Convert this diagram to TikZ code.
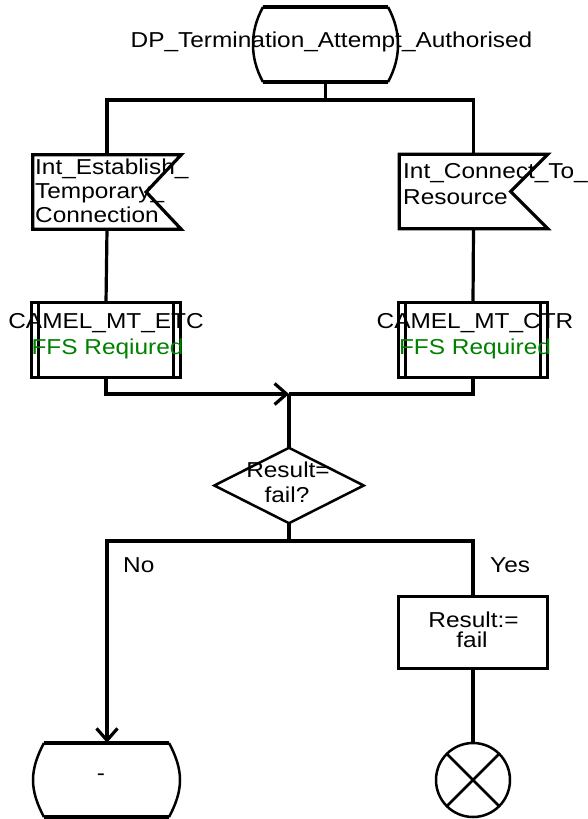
\documentclass[tikz,border=0pt]{standalone}
\usepackage{fontspec}
\setmainfont{Liberation Sans}[FakeStretch=1.13]
\usetikzlibrary{arrows.meta}
\definecolor{ffsgreen}{RGB}{0,128,0}
\tikzset{
  lw/.style={line width=3.2pt},
  lwthin/.style={line width=2.5pt},
  txt/.style={inner sep=0pt, font=\fontsize{21.6}{24.5}\selectfont},
  gtxt/.style={txt, text=ffsgreen},
  frame/.style={inner sep=0pt, draw=none},
  barb/.style={-{Straight Barb[length=12pt,width=21pt,line width=3.2pt]}}
}
\begin{document}
\begin{tikzpicture}[x=1pt,y=-1pt]
\useasboundingbox (0,0) rectangle (587,819);
% ---------- frames (invisible) ----------
\node[frame, minimum width=145pt, minimum height=75pt] (start) at (325.5,44.5) {};
\node[frame, minimum width=148pt, minimum height=74pt] (sigL) at (107,192) {};
\node[frame, minimum width=148pt, minimum height=74pt] (sigR) at (473.5,191.5) {};
\node[frame, minimum width=148pt, minimum height=74pt] (camL) at (106,340) {};
\node[frame, minimum width=148pt, minimum height=74pt] (camR) at (473,340) {};
\node[frame, minimum width=149pt, minimum height=75pt] (dec) at (289,485.5) {};
\node[frame, minimum width=148pt, minimum height=71pt] (task) at (473,632.5) {};
\node[frame, minimum width=148pt, minimum height=74pt] (endL) at (107,780) {};
\node[frame, circle, minimum size=74pt] (stop) at (473,780) {};
\coordinate (split) at (325.5,100);
\coordinate (merge) at (289,394);
\coordinate (join) at (289,541);
% ---------- start state ----------
\draw[lw] (263,7) -- (388,7);
\draw[lw] (263,82) -- (388,82);
\draw[lwthin] (388,7) .. controls (395,20) and (398,32) .. (398,44.5) .. controls (398,57) and (395,69) .. (388,82);
\draw[lwthin] (263,7) .. controls (256,20) and (253,32) .. (253,44.5) .. controls (253,57) and (256,69) .. (263,82);
\node[txt, anchor=base] (t0) at (331.5,47) {DP\_Termination\_Attempt\_Authorised};
% ---------- input signals ----------
\draw[lw] (sigL.north west) -- (sigL.north east) -- ([xshift=-35pt]sigL.east) -- (sigL.south east) -- (sigL.south west) -- cycle;
\draw[lw] (sigR.north west) -- (sigR.north east) -- ([xshift=-37pt]sigR.east) -- (sigR.south east) -- (sigR.south west) -- cycle;
\node[txt, anchor=base west] (tl1) at (35,174) {Int\_Establish\_};
\node[txt, anchor=base west] (tl2) at (35,198) {Temporary\_};
\node[txt, anchor=base west] (tl3) at (35,222) {Connection};
\node[txt, anchor=base west] (tr1) at (403,178) {Int\_Connect\_To\_};
\node[txt, anchor=base west] (tr2) at (403,204) {Resource};
% ---------- procedure calls ----------
\draw[lw] (camL.north west) rectangle (camL.south east);
\draw[lw] ([xshift=6.5pt]camL.north west) -- ([xshift=6.5pt]camL.south west);
\draw[lw] ([xshift=-6.5pt]camL.north east) -- ([xshift=-6.5pt]camL.south east);
\draw[lw] (camR.north west) rectangle (camR.south east);
\draw[lw] ([xshift=6.5pt]camR.north west) -- ([xshift=6.5pt]camR.south west);
\draw[lw] ([xshift=-6.5pt]camR.north east) -- ([xshift=-6.5pt]camR.south east);
\node[txt, anchor=base] (c1) at (106,328) {CAMEL\_MT\_ETC};
\node[gtxt, anchor=base] (c2) at (107.5,354) {FFS Reqiured};
\node[txt, anchor=base] (c3) at (475,328) {CAMEL\_MT\_CTR};
\node[gtxt, anchor=base] (c4) at (475,354) {FFS Required};
% ---------- decision ----------
\draw[lwthin] (dec.north) -- (dec.east) -- (dec.south) -- (dec.west) -- cycle;
\node[txt, anchor=base] (d1) at (288,477) {Result=};
\node[txt, anchor=base] (d2) at (287,502) {fail?};
\node[txt, anchor=base west] (no) at (123,572) {No};
\node[txt, anchor=base west] (yes) at (490,572) {Yes};
% ---------- task ----------
\draw[lw] (task.north west) rectangle (task.south east);
\node[txt, anchor=base] (k1) at (473.5,627) {Result:=};
\node[txt, anchor=base] (k2) at (472,647) {fail};
% ---------- end state ----------
\draw[lw] (44,743) -- (169,743);
\draw[lw] (44,817) -- (169,817);
\draw[lwthin] (169,743) .. controls (176,756) and (180,768) .. (180,780) .. controls (180,792) and (176,804) .. (169,817);
\draw[lwthin] (44,743) .. controls (37,756) and (33,768) .. (33,780) .. controls (33,792) and (37,804) .. (44,817);
\node[txt, anchor=base] (dash) at (101,780) {-};
% ---------- stop ----------
\draw[lwthin] (stop.center) circle (37pt);
\draw[lwthin] (stop.north west) -- (stop.south east);
\draw[lwthin] (stop.north east) -- (stop.south west);
% ---------- connectors ----------
\draw[lw] (start.south) -- (split);
\draw[lw] (sigL.north) -- (sigL.north |- split) -- (sigR.north |- split) -- (sigR.north);
\draw[lw] (sigL.south) -- (camL.north);
\draw[lw] (sigR.south) -- (camR.north);
\draw[lw, barb] (camL.south) |- (merge);
\draw[lw] (camR.south) |- (merge);
\draw[lw] (merge) -- (dec.north);
\draw[lw] (dec.south) -- (join);
\draw[lw, barb] (join) -| (endL.north);
\draw[lw] (join) -| (task.north);
\draw[lw] (task.south) -- (stop.north);
\end{tikzpicture}
\end{document}
